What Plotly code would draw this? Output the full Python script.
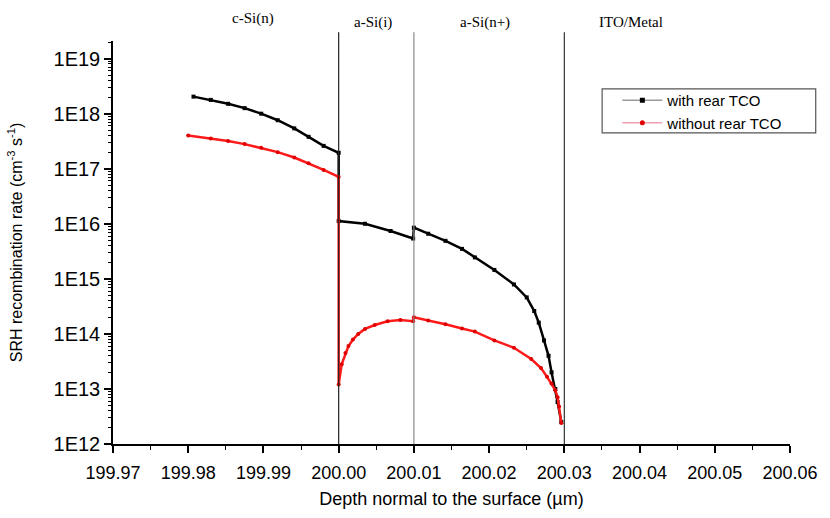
import plotly.graph_objects as go

# ---- data ----
with_x = [199.9807, 199.9830, 199.9853, 199.9875, 199.9897, 199.9919, 199.9941, 199.9960, 199.9980, 200.0000,
          200.0000, 200.0035, 200.0069, 200.0099,
          200.0100, 200.0119, 200.0142, 200.0164, 200.0181, 200.0207, 200.0233, 200.0250, 200.0260, 200.0266,
          200.0273, 200.0279, 200.0283, 200.0288, 200.0291, 200.0296]
with_y = [2.04e18, 1.78e18, 1.51e18, 1.26e18, 1.0e18, 7.6e17, 5.4e17, 3.8e17, 2.6e17, 1.95e17,
          1.12e16, 1.0e16, 7.4e15, 5.4e15,
          8.5e15, 6.6e15, 4.9e15, 3.5e15, 2.45e15, 1.45e15, 7.9e14, 4.6e14, 2.6e14, 1.6e14,
          7.6e13, 4.0e13, 2.0e13, 1.0e13, 5.8e12, 2.5e12]

without_x = [199.9800, 199.9830, 199.9853, 199.9875, 199.9897, 199.9919, 199.9941, 199.9960, 199.9980, 200.0000,
             200.0000, 200.0004, 200.0009, 200.0013, 200.0019, 200.0026, 200.0035, 200.0048, 200.0065, 200.0082, 200.0099,
             200.0100, 200.0119, 200.0142, 200.0164, 200.0181, 200.0207, 200.0233, 200.0256, 200.0269, 200.0277,
             200.0283, 200.0288, 200.0291, 200.0293, 200.0296]
without_y = [4.0e17, 3.55e17, 3.2e17, 2.8e17, 2.4e17, 2.0e17, 1.6e17, 1.26e17, 9.5e16, 7.1e16,
             1.2e13, 2.8e13, 4.5e13, 6.0e13, 7.9e13, 1.0e14, 1.23e14, 1.45e14, 1.7e14, 1.78e14, 1.7e14,
             2.0e14, 1.75e14, 1.5e14, 1.25e14, 1.1e14, 7.6e13, 5.6e13, 3.5e13, 2.4e13, 1.66e13,
             1.26e13, 9.5e12, 7.1e12, 4.8e12, 2.4e12]

series_names = ["with rear TCO", "without rear TCO"]

x_ticks = [199.97, 199.98, 199.99, 200.00, 200.01, 200.02, 200.03, 200.04, 200.05, 200.06]
x_ticktext = ["199.97", "199.98", "199.99", "200.00", "200.01", "200.02", "200.03", "200.04", "200.05", "200.06"]
y_exps = [12, 13, 14, 15, 16, 17, 18, 19]
y_ticktext = ["1E12", "1E13", "1E14", "1E15", "1E16", "1E17", "1E18", "1E19"]

boundaries = [200.00, 200.01, 200.03]
boundary_colors = ["#222222", "#8a8a8a", "#333333"]
region_labels = ["c-Si(n)", "a-Si(i)", "a-Si(n+)", "ITO/Metal"]
region_label_x = [199.9886, 200.0046, 200.0194, 200.0388]
region_label_y = [1.056, 1.046, 1.046, 1.046]

# ---- figure ----
fig = go.Figure()

fig.add_trace(go.Scatter(x=with_x, y=with_y, mode="lines+markers", showlegend=False,
                         line=dict(color="black", width=2.5),
                         marker=dict(symbol="square", size=4, color="black")))
fig.add_trace(go.Scatter(x=without_x, y=without_y, mode="lines+markers", showlegend=False,
                         line=dict(color="#ff1a1a", width=2.5),
                         marker=dict(symbol="circle", size=4, color="#e00000")))
# legend-only entries (thin coloured line with marker)
fig.add_trace(go.Scatter(x=[None], y=[None], mode="lines+markers", name=series_names[0],
                         line=dict(color="#9a9a9a", width=1.5),
                         marker=dict(symbol="square", size=5, color="black")))
fig.add_trace(go.Scatter(x=[None], y=[None], mode="lines+markers", name=series_names[1],
                         line=dict(color="#f0a0b0", width=1.5),
                         marker=dict(symbol="circle", size=5, color="#e00000")))

for bx, bc in zip(boundaries, boundary_colors):
    fig.add_shape(type="line", xref="x", yref="paper", x0=bx, x1=bx, y0=0, y1=1.022,
                  line=dict(color=bc, width=1.2))

# legend frame (pixels ~606-822 x 90-135)
fig.add_shape(type="rect", xref="paper", yref="paper", x0=0.7225, x1=1.038, y0=0.772, y1=0.881,
              line=dict(color="#555555", width=1.2), fillcolor="rgba(0,0,0,0)")

for lab, lx, ly in zip(region_labels, region_label_x, region_label_y):
    fig.add_annotation(x=lx, y=ly, xref="x", yref="paper", text=lab, showarrow=False,
                       yanchor="middle", xanchor="center",
                       font=dict(family="Liberation Serif, Times New Roman, serif", size=15, color="black"))

minor_vals = [m * 10.0 ** e for e in range(12, 20) for m in range(2, 10)]

fig.update_layout(
    width=830, height=518,
    margin=dict(l=113, r=34, t=41, b=65),
    plot_bgcolor="white", paper_bgcolor="white",
    font=dict(family="Liberation Sans, Arial, sans-serif", color="black"),
    legend=dict(x=0.745, y=0.893, xanchor="left", yanchor="top",
                bgcolor="rgba(0,0,0,0)", borderwidth=0,
                font=dict(size=15), tracegroupgap=0, itemwidth=40),
    xaxis=dict(range=[199.97, 200.06], tickvals=x_ticks, ticktext=x_ticktext,
               showgrid=False, zeroline=False, showline=True, linecolor="black", linewidth=1.5,
               ticks="outside", ticklen=7, tickwidth=1.5, tickcolor="black",
               minor=dict(tickvals=[v + 0.005 for v in x_ticks[:-1]], ticks="outside", ticklen=4,
                          tickwidth=1, tickcolor="black"),
               tickfont=dict(size=18), ticklabelstandoff=5,
               title=dict(text="Depth normal to the surface (µm)", font=dict(size=18), standoff=10)),
    yaxis=dict(type="log", range=[12, 19.32],
               tickvals=[10.0 ** e for e in y_exps], ticktext=y_ticktext,
               showgrid=False, zeroline=False, showline=True, linecolor="black", linewidth=1.5,
               ticks="outside", ticklen=7, tickwidth=1.5, tickcolor="black",
               minor=dict(tickvals=minor_vals, ticks="outside", ticklen=3, tickwidth=1, tickcolor="black"),
               tickfont=dict(size=20),
               title=dict(text="SRH recombination rate (cm<sup>-3</sup> s<sup>-1</sup>)", font=dict(size=16),
                          standoff=27)),
)

fig.write_html("out.html", config={"displayModeBar": False},
               post_script="document.body.style.margin='0';")
